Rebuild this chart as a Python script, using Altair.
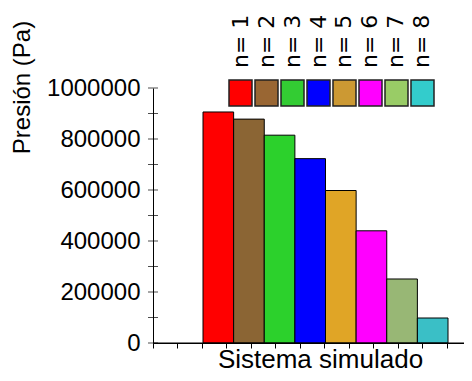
import altair as alt
import pandas as pd

# ---- data ----
categories = ["n= 1", "n= 2", "n= 3", "n= 4", "n= 5", "n= 6", "n= 7", "n= 8"]
pressures = [906000, 878000, 815000, 723000, 598000, 440000, 251000, 98000]
bar_colors = ["#FF0000", "#8B6534", "#2CD12C", "#0000FF", "#E0A526", "#FF00FF", "#98B775", "#3ABFC6"]
legend_colors = ["#FF0000", "#996633", "#33CC33", "#0000FF", "#CC9933", "#FF00FF", "#99CC66", "#33CCCC"]
y_tick_values = [0, 100000, 200000, 300000, 400000, 500000, 600000, 700000, 800000, 900000, 1000000]
y_label_values = [0, 200000, 400000, 600000, 800000, 1000000]
x_tick_values = [0, 1, 2, 3, 4, 5, 6, 7, 8, 9, 10, 11, 12, 13]

bars_df = pd.DataFrame({"sistema": categories, "presion": pressures})
yticks_df = pd.DataFrame({"presion": y_tick_values})
xaxis_df = pd.DataFrame({"a": [x_tick_values[0]], "b": [x_tick_values[-1]]})
legend_df = pd.DataFrame({"leyenda": categories})

FONT = "Liberation Sans"

bars = alt.Chart(bars_df).mark_bar(stroke="black", strokeWidth=1).encode(
    x=alt.X("sistema:N", sort=categories,
            scale=alt.Scale(range=[50, 295], paddingInner=0, paddingOuter=0),
            axis=None),
    y=alt.Y("presion:Q",
            scale=alt.Scale(domain=[0, 1000000], nice=False, zero=True),
            axis=alt.Axis(values=y_label_values, format="d", ticks=False, tickSize=0,
                          grid=False, domain=True, domainColor="black", domainWidth=1,
                          labelFont=FONT, labelFontSize=24, labelColor="black",
                          labelPadding=13, labelFlush=False, labelOverlap=False,
                          title="Presión (Pa)", titleFont=FONT, titleFontSize=24,
                          titleFontWeight="normal", titleColor="black",
                          titleAngle=270, titleBaseline="alphabetic", titleAlign="center",
                          titleX=-124, titleY=-1)),
    color=alt.Color("sistema:N", scale=alt.Scale(domain=categories, range=bar_colors),
                    legend=None),
)

yticks = alt.Chart(yticks_df).mark_tick(orient="horizontal", size=10, thickness=1,
                                        color="black").encode(
    y=alt.Y("presion:Q"),
    x=alt.value(0),
)

xaxis = alt.Chart(xaxis_df).mark_rule(color="black", strokeWidth=1).encode(
    x=alt.X("a:Q", scale=alt.Scale(domain=[0, 13], range=[0, 318], nice=False, zero=False),
            axis=alt.Axis(values=x_tick_values, labels=False, ticks=True, tickSize=5,
                          tickColor="black", domainColor="black", grid=False,
                          title="Sistema simulado", titleFont=FONT, titleFontSize=26,
                          titleFontWeight="normal", titleColor="black",
                          titleBaseline="alphabetic", titleAlign="center",
                          titleX=167, titleY=24)),
    x2="b:Q",
    y=alt.datum(0),
)

swatches = alt.Chart(legend_df).mark_rect(stroke="#222222", strokeWidth=1.5).encode(
    x=alt.X("leyenda:N", sort=categories,
            scale=alt.Scale(range=[76, 281], paddingInner=0.115, paddingOuter=0),
            axis=None),
    y=alt.value(-8),
    y2=alt.value(18),
    color=alt.Color("leyenda:N", scale=alt.Scale(domain=categories, range=legend_colors),
                    legend=None),
)

labels = alt.Chart(legend_df).mark_text(angle=270, align="left", baseline="middle",
                                        font="DejaVu Sans", fontSize=22,
                                        color="black").encode(
    x=alt.X("leyenda:N", sort=categories,
            scale=alt.Scale(range=[76, 281], paddingInner=0.115, paddingOuter=0),
            axis=None),
    y=alt.value(-20),
    text="leyenda:N",
)

legend = alt.layer(swatches, labels)

chart = alt.layer(bars, yticks, xaxis, legend).resolve_scale(
    x="independent", color="independent"
).properties(
    width=311, height=255,
    autosize=alt.AutoSizeParams(type="none"),
    padding={"left": 145, "top": 80, "right": 0, "bottom": 30},
    background="white",
).configure_view(stroke=None)

chart.save("out.html", embed_options={"renderer": "svg", "actions": False})
